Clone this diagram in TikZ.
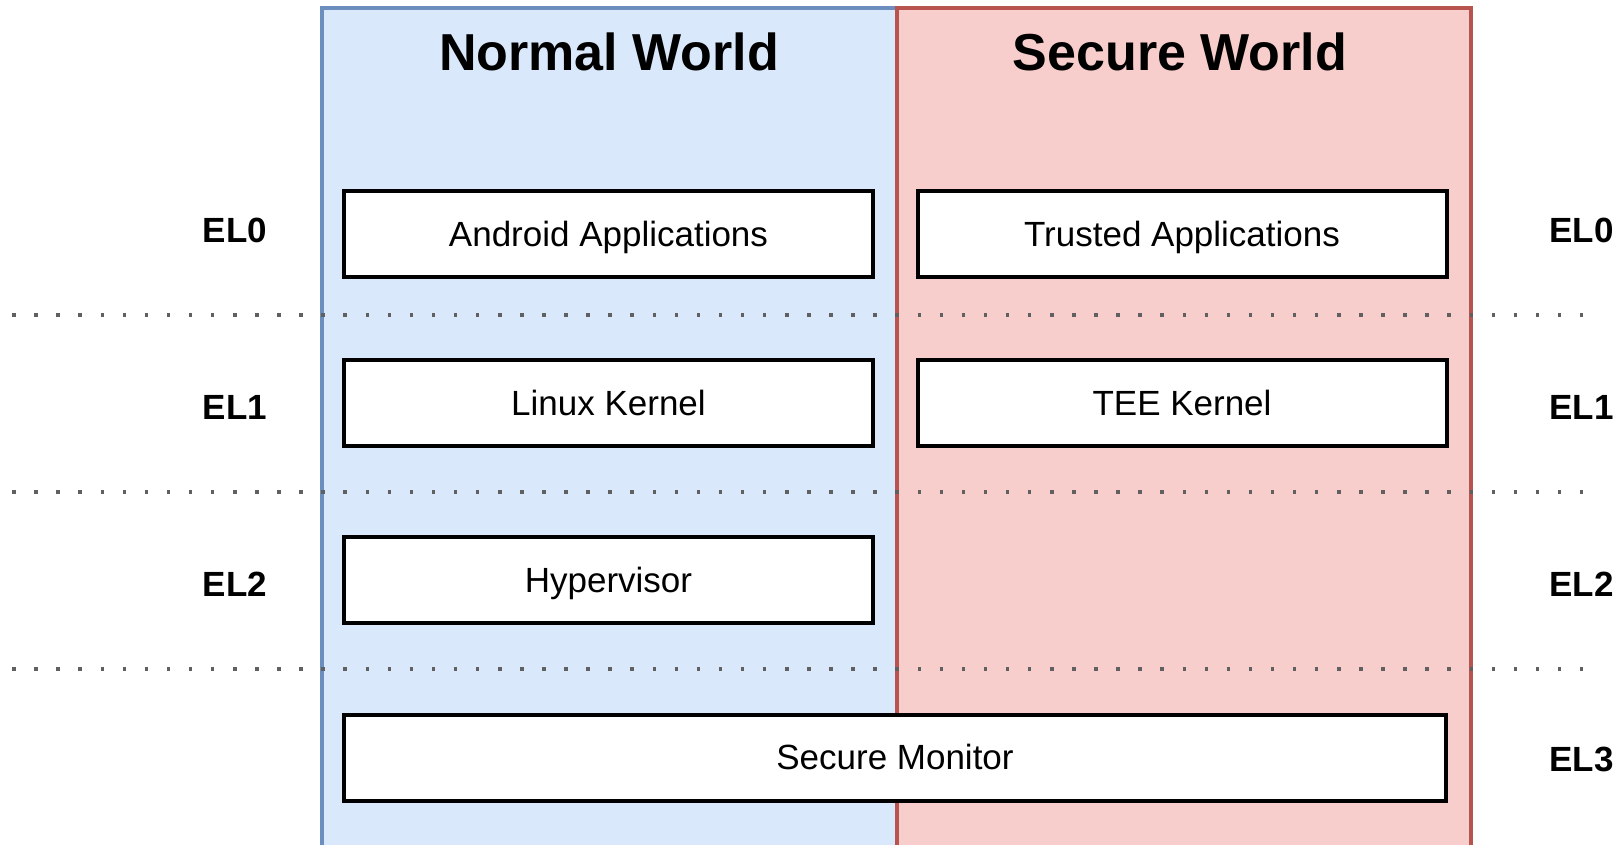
\documentclass[tikz,border=0pt]{standalone}
\usepackage{fontspec}
\setmainfont{Liberation Sans}
\definecolor{nwfill}{HTML}{DAE8FC}
\definecolor{nwline}{HTML}{6C8EBF}
\definecolor{swfill}{HTML}{F8CECC}
\definecolor{swline}{HTML}{B85450}
\definecolor{dotgray}{HTML}{606060}

\begin{document}
\begin{tikzpicture}[x=1pt,y=-1pt,
  worldbox/.style={line width=4pt, inner sep=0pt, anchor=north west},
  worldtitle/.style={font=\fontsize{52}{60}\selectfont\bfseries, anchor=base, inner sep=0pt},
  layerbox/.style={draw=black, fill=white, line width=4pt, minimum height=86pt,
    inner sep=0pt, font=\fontsize{35}{42}\selectfont, text height=29.5pt, text depth=5.5pt},
  levelname/.style={font=\fontsize{35}{42}\selectfont\bfseries, inner sep=0pt,
    text height=28pt, text depth=7pt},
  levelsep/.style={dotgray, line width=3.5pt, dash pattern=on 3.5pt off 18.58pt}
]
\useasboundingbox (0,0) rectangle (1620,844);
\clip (0,0) rectangle (1620,844);

% the two worlds
\node[worldbox, fill=nwfill, draw=nwline, minimum width=575pt, minimum height=842pt] (normal) at (320,6) {};
\node[worldbox, fill=swfill, draw=swline, minimum width=574pt, minimum height=842pt] (secure) at (895,6) {};

\node[worldtitle] (normaltitle) at (609,70) {Normal World};
\node[worldtitle] (securetitle) at (1180,70) {Secure World};

% separators between exception levels
\foreach \y [count=\i] in {315,492,669} {
  \coordinate (sepL\i) at (12.25,\y);
  \coordinate (sepR\i) at (1584,\y);
  \draw[levelsep] (sepL\i) -- (sepR\i);
}

% software layers
\node[layerbox, minimum width=529pt] (android) at (608.5,234) {Android Applications};
\node[layerbox, minimum width=529pt] (trusted) at (1182,234) {Trusted Applications};
\node[layerbox, minimum width=529pt] (linux) at (608.5,403) {Linux Kernel};
\node[layerbox, minimum width=529pt] (tee) at (1182,403) {TEE Kernel};
\node[layerbox, minimum width=529pt] (hyp) at (608.5,580) {Hypervisor};
\node[layerbox, minimum width=1102pt] (monitor) at (895,757.5) {Secure Monitor};

% exception level labels
\node[levelname] (el0l) at (235,232) {EL0};
\node[levelname] (el1l) at (235,409) {EL1};
\node[levelname] (el2l) at (235,586) {EL2};
\node[levelname] (el0r) at (1581.5,232) {EL0};
\node[levelname] (el1r) at (1581.5,409) {EL1};
\node[levelname] (el2r) at (1581.5,586) {EL2};
\node[levelname] (el3r) at (1581.5,761) {EL3};
\end{tikzpicture}
\end{document}
